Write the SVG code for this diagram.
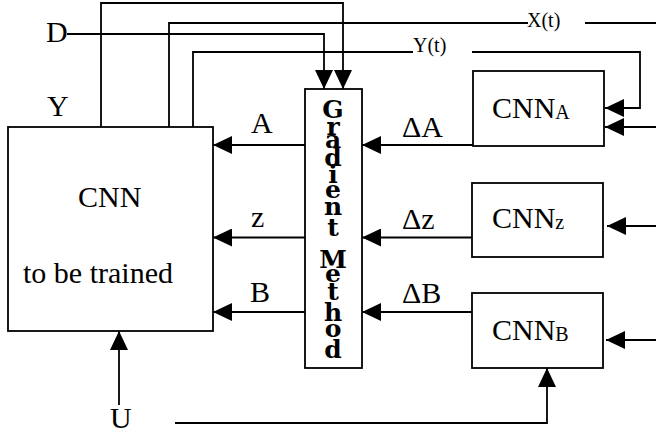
<svg xmlns="http://www.w3.org/2000/svg" width="656" height="434" viewBox="0 0 656 434">
<style>
  .box { fill: #fff; stroke: #000; stroke-width: 1.8; }
  .ln { fill: none; stroke: #000; stroke-width: 1.8; }
  .t { font-family: "Liberation Serif", "Times New Roman", serif; font-size: 30px; fill: #000; }
  .sub { font-size: 20px; }
  .sm { font-family: "Liberation Serif", "Times New Roman", serif; font-size: 20px; fill: #000; }
  .gm { font-family: "DejaVu Serif", serif; font-weight: bold; font-size: 25px; fill: #000; text-anchor: middle; }
</style>
<defs>
  <marker id="arr" viewBox="0 0 19 18" refX="19" refY="9" markerWidth="19" markerHeight="18" orient="auto" markerUnits="userSpaceOnUse">
    <path d="M0,0 L19,9 L0,18 z" fill="#000"/>
  </marker>
</defs>

<g id="connectors">
  <path class="ln" d="M101,127 V3 H343 V89" marker-end="url(#arr)"/>
  <path class="ln" d="M67,34 H324 V89" marker-end="url(#arr)"/>
  <path class="ln" d="M169,127 V23 H528"/>
  <path class="ln" d="M585,23 H656"/>
  <path class="ln" d="M193,127 V52 H413"/>
  <path class="ln" d="M472,52 H640 V108 H605" marker-end="url(#arr)"/>
  <path class="ln" d="M656,127 H605" marker-end="url(#arr)"/>
  <path class="ln" d="M656,226 H607" marker-end="url(#arr)"/>
  <path class="ln" d="M656,340 H606" marker-end="url(#arr)"/>
  <path class="ln" d="M473,145 H362" marker-end="url(#arr)"/>
  <path class="ln" d="M472,237.5 H362" marker-end="url(#arr)"/>
  <path class="ln" d="M472,312 H362" marker-end="url(#arr)"/>
  <path class="ln" d="M305,145 H213" marker-end="url(#arr)"/>
  <path class="ln" d="M305,237.5 H213" marker-end="url(#arr)"/>
  <path class="ln" d="M305,312 H213" marker-end="url(#arr)"/>
  <path class="ln" d="M175,423 H547 V368" marker-end="url(#arr)"/>
  <path class="ln" d="M119,405 V331" marker-end="url(#arr)"/>
</g>

<g id="cnn">
  <rect class="box" x="8" y="127" width="205" height="204"/>
  <text class="t" x="78" y="207">CNN</text>
  <text class="t" x="23" y="283">to be trained</text>
</g>

<g id="gradient">
  <rect class="box" x="305" y="89" width="57" height="279"/>
  <text class="gm"><tspan x="333" y="118">G</tspan><tspan x="333" y="135">r</tspan><tspan x="333" y="148">a</tspan><tspan x="333" y="166">d</tspan><tspan x="333" y="183">i</tspan><tspan x="333" y="198">e</tspan><tspan x="333" y="215">n</tspan><tspan x="333" y="236">t</tspan><tspan x="333" y="268">M</tspan><tspan x="333" y="282">e</tspan><tspan x="333" y="300">t</tspan><tspan x="333" y="321">h</tspan><tspan x="333" y="337">o</tspan><tspan x="333" y="358">d</tspan></text>
</g>

<g id="cnnA">
  <rect class="box" x="473" y="71" width="131" height="75"/>
  <text class="t" x="492" y="118">CNN<tspan class="sub" dy="1">A</tspan></text>
</g>

<g id="cnnZ">
  <rect class="box" x="472" y="183" width="131" height="74"/>
  <text class="t" x="492" y="228">CNN<tspan class="sub" dy="1">z</tspan></text>
</g>

<g id="cnnB">
  <rect class="box" x="472" y="293" width="131" height="75"/>
  <text class="t" x="492" y="340">CNN<tspan class="sub" dy="1">B</tspan></text>
</g>

<g id="labels">
  <text class="t" x="46" y="42">D</text>
  <text class="t" x="47" y="116">Y</text>
  <text class="sm" x="527" y="27">X(t)</text>
  <text class="sm" x="413" y="52">Y(t)</text>
  <text class="t" x="251" y="133">A</text>
  <text class="t" x="251" y="227">z</text>
  <text class="t" x="250" y="302">B</text>
  <text class="t" x="402" y="137">ΔA</text>
  <text class="t" x="402" y="229">Δz</text>
  <text class="t" x="402" y="303">ΔB</text>
  <text class="t" x="110" y="428">U</text>
</g>
</svg>
